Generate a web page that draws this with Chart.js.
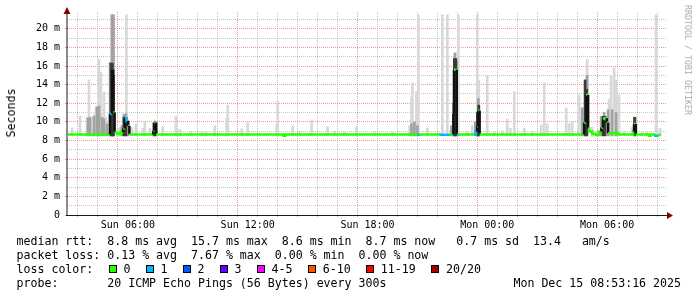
<!DOCTYPE html>
<html>
<head>
<meta charset="utf-8">
<script src="https://cdn.jsdelivr.net/npm/chart.js@4/dist/chart.umd.min.js"></script>
<style>
    html, body { margin: 0; padding: 0; background: #fff; }
    #marco { position: relative; width: 697px; height: 297px; overflow: hidden; background: #fff; }
    #grafico { position: absolute; left: 0; top: 0; }
    .txt { position: absolute; font-family: "DejaVu Sans Mono", monospace; font-size: 11.6px; line-height: 14px; white-space: pre; color: #000; }
    .caja { position: absolute; width: 6px; height: 6px; border: 1px solid #000; }
    #titulo-y { left: 11px; top: 113px; transform: translate(-50%, -50%) rotate(-90deg); }
    #marca { left: 688px; top: 60px; font-size: 8.3px; color: #ababab; transform: translate(-50%, -50%) rotate(90deg); }
</style>
</head>
<body>
<div id="marco">
    <canvas id="grafico" width="697" height="297"></canvas>
    <div class="txt" id="titulo-y">Seconds</div>
    <div class="txt" id="marca">RRDTOOL / TOBI OETIKER</div>
    <div class="txt" style="left:16.5px; top:234px;">median rtt:  8.8 ms avg  15.7 ms max  8.6 ms min  8.7 ms now   0.7 ms sd  13.4   am/s</div>
    <div class="txt" style="left:16.5px; top:248px;">packet loss: 0.13 % avg  7.67 % max  0.00 % min  0.00 % now</div>
    <div class="txt" style="left:16.5px; top:262px;">loss color:</div>
    <div id="leyenda-perdida"></div>
    <div class="txt" style="left:16.5px; top:276px;">probe:       20 ICMP Echo Pings (56 Bytes) every 300s</div>
    <div class="txt" style="right:16px; top:276px;">Mon Dec 15 08:53:16 2025</div>
</div>
<script>
// tiempo en horas desde Sun 00:00, valores en ms
const xMin = 2.95, xMax = 32.95;
const yMin = 0, yMax = 21.8;

const xTickHours = [6, 12, 18, 24, 30];
const xTickLabels = ['Sun 06:00', 'Sun 12:00', 'Sun 18:00', 'Mon 00:00', 'Mon 06:00'];
const yLabelValues = [0, 2, 4, 6, 8, 10, 12, 14, 16, 18, 20];
const yLabelTexts = ['0', '2 m', '4 m', '6 m', '8 m', '10 m', '12 m', '14 m', '16 m', '18 m', '20 m'];

// mediana: inicio de cada tramo, valor y pings perdidos
const medianTimes = [3.0, 5.1, 5.215, 5.265, 5.335, 5.465, 5.635, 5.765, 5.85, 5.935, 6.015, 6.075, 7.27, 7.33, 7.42, 13.8, 13.88, 20.5, 20.6, 21.6, 22.1, 22.3, 22.33, 22.47, 22.55, 23.35, 23.43, 23.49, 23.545, 23.615, 28.85, 28.95, 29.05, 29.1, 29.25, 29.45, 29.6, 29.715, 29.8, 29.885, 29.985, 30.05, 30.435, 30.5, 30.6, 31.315, 31.35, 31.435, 32.1, 32.175, 32.35, 32.515];
const medianValues = [8.65, 10.86, 15.6, 11.0, 8.85, 8.7, 8.9, 9.3, 10.4, 10.1, 9.57, 8.65, 9.05, 9.9, 8.65, 8.5, 8.65, 8.62, 8.65, 8.62, 8.65, 10.86, 15.6, 8.62, 8.65, 8.62, 8.96, 9.5, 11.2, 8.65, 9.92, 12.9, 9.3, 8.96, 8.7, 8.6, 8.96, 9.39, 10.3, 10.4, 9.92, 8.78, 8.85, 8.7, 8.65, 8.96, 9.78, 8.65, 8.5, 8.65, 8.5, 8.6];
const medianLoss = [0, 1, 2, 0, 0, 0, 0, 0, 1, 1, 0, 0, 0, 0, 0, 0, 0, 1, 0, 1, 0, 0, 0, 1, 0, 1, 1, 1, 0, 0, 0, 0, 0, 0, 0, 0, 0, 0, 0, 0, 0, 0, 0, 0, 0, 0, 0, 0, 0, 0, 1, 0];
const medianEnd = 32.685;

// humo (smoke): tres tonos
const smokeFloor = 8.5;
const lightTimes = [3.2, 3.6, 3.95, 4.05, 4.15, 4.3, 4.4, 4.5, 4.55, 4.65, 4.8, 4.9, 5.1, 5.2, 5.275, 5.5, 5.6, 5.925, 6.2, 6.4, 6.75, 6.85, 7.1, 7.35, 7.75, 8.4, 8.6, 9.15, 9.7, 9.9, 10.35, 10.95, 11.0, 11.7, 12.0, 13.45, 13.5, 14.25, 14.6, 15.2, 16.0, 16.35, 16.85, 17.45, 18.35, 19.25, 20.1, 20.2, 20.25, 20.45, 20.55, 21.0, 21.75, 22.0, 22.25, 22.4, 22.55, 23.0, 23.25, 23.5, 23.575, 24.0, 24.35, 24.75, 25.0, 25.15, 25.35, 25.85, 26.25, 26.7, 26.85, 27.0, 27.95, 28.1, 28.25, 28.6, 28.75, 29.0, 29.25, 30.1, 30.2, 30.35, 30.45, 30.6, 30.85, 31.25, 31.45, 31.75, 32.0, 32.45, 32.65];
const lightHigh = [9.35, 10.6, 10.5, 14.5, 10.4, 10.75, 11.6, 11.6, 16.7, 15.3, 13.2, 10.5, 16.4, 21.5, 21.5, 9.3, 9.4, 21.5, 9.4, 9.8, 9.3, 10.0, 9.3, 10.2, 9.5, 10.6, 9.2, 8.95, 8.9, 8.9, 9.57, 10.4, 11.8, 9.25, 9.9, 9.7, 12.2, 9.57, 8.9, 10.2, 9.5, 9.0, 8.9, 9.5, 8.9, 8.9, 9.57, 12.7, 14.2, 13.26, 21.5, 9.35, 21.5, 21.5, 9.6, 17.4, 21.5, 8.9, 9.57, 21.5, 14.5, 14.9, 8.9, 9.0, 10.3, 9.3, 13.26, 9.3, 9.0, 9.68, 14.2, 9.8, 11.5, 9.8, 10.0, 12.9, 11.5, 16.7, 9.4, 12.4, 14.9, 15.8, 14.5, 12.9, 9.0, 9.4, 10.5, 8.9, 8.9, 21.5, 9.3];
const midTimes = [4.0, 4.1, 4.3, 4.45, 4.55, 4.7, 4.8, 4.95, 5.125, 5.2, 5.275, 5.7, 5.8, 5.9, 6.0, 20.2, 20.35, 20.5, 22.2, 22.3, 22.375, 22.45, 23.4, 23.55, 28.75, 28.9, 29.0, 29.7, 29.85, 30.05, 30.25, 30.45, 31.4];
const midHigh = [10.4, 10.5, 10.6, 11.6, 11.7, 10.5, 10.3, 9.8, 16.4, 21.5, 21.5, 9.6, 10.8, 10.9, 10.2, 9.8, 10.0, 9.6, 9.57, 12.0, 17.4, 16.5, 10.0, 12.5, 11.5, 14.5, 15.0, 10.6, 11.0, 11.3, 11.3, 11.0, 10.5];
const darkTimes = [5.15, 5.225, 5.275, 5.8, 5.9, 7.3, 7.375, 22.35, 22.425, 23.5, 23.575, 28.9, 28.975, 29.8, 29.9, 31.375];
const darkHigh = [16.3, 16.3, 15.0, 10.5, 10.4, 9.9, 10.0, 16.8, 16.8, 11.0, 11.8, 14.5, 13.5, 10.6, 10.6, 10.5];

const lossLabels = ['0', '1', '2', '3', '4-5', '6-10', '11-19', '20/20'];
const lossColors = ['#26ff00', '#00b8ff', '#0059ff', '#5e00ff', '#ff00ff', '#ff5500', '#ff0000', '#a10000'];

const GRID = 'rgba(89,89,89,0.35)';
const MGRID = 'rgba(232,82,82,0.6)';

// leyenda de colores de perdida
const cajaLeyenda = document.getElementById('leyenda-perdida');
let posX = 108.5;
lossLabels.forEach((lab, i) => {
    const c = document.createElement('div');
    c.className = 'caja';
    c.style.left = posX + 'px';
    c.style.top = '265px';
    c.style.background = lossColors[i];
    cajaLeyenda.appendChild(c);
    const t = document.createElement('div');
    t.className = 'txt';
    t.style.left = (posX + 15) + 'px';
    t.style.top = '262px';
    t.textContent = lab;
    cajaLeyenda.appendChild(t);
    posX += 30 + 7.03 * lab.length;
});

// mediana como escalones: tramo horizontal y salto vertical
const puntosMediana = [];
medianTimes.forEach((t, i) => {
    const fin = i + 1 < medianTimes.length ? medianTimes[i + 1] : medianEnd;
    puntosMediana.push({ x: t, y: medianValues[i] });
    puntosMediana.push({ x: fin, y: medianValues[i] });
});

function colorTramo(ctx) {
    const k = ctx.p0DataIndex;
    const tramo = Math.floor(k / 2);
    if (k % 2 === 0) return lossColors[medianLoss[tramo]];
    const salto = Math.abs(medianValues[tramo + 1] - medianValues[tramo]);
    return salto > 0.4 ? '#111' : lossColors[medianLoss[tramo]];
}

const humo = (tiempos, altos) => tiempos.map((t, i) => ({ x: t, y: [smokeFloor, altos[i]] }));

// color de rejilla: mayor cada n unidades
const rejilla = (n, menor) => c => {
    if (!c.tick) return menor;
    return Math.abs(c.tick.value % n) < 1e-6 ? MGRID : menor;
};

// una marca por unidad entera dentro del rango
const marcasEnteras = s => {
    const lista = [];
    for (let v = Math.ceil(s.min); v <= s.max; v++) lista.push({ value: v });
    s.ticks = lista;
};

const ejes = {
    id: 'ejes',
    afterDraw(chart) {
        const { ctx, chartArea: a } = chart;
        ctx.save();
        ctx.strokeStyle = '#1a1a1a';
        ctx.lineWidth = 1;
        ctx.beginPath();
        ctx.moveTo(a.left, a.bottom + 1);
        ctx.lineTo(a.left, 13);
        ctx.moveTo(a.left - 1, a.bottom + 0.5);
        ctx.lineTo(a.right + 2, a.bottom + 0.5);
        ctx.stroke();
        ctx.fillStyle = '#800000';
        ctx.beginPath();
        ctx.moveTo(a.left, 7);
        ctx.lineTo(a.left - 3.5, 14);
        ctx.lineTo(a.left + 3.5, 14);
        ctx.closePath();
        ctx.fill();
        ctx.beginPath();
        ctx.moveTo(a.right + 7, a.bottom + 0.5);
        ctx.lineTo(a.right + 1, a.bottom - 3);
        ctx.lineTo(a.right + 1, a.bottom + 4);
        ctx.closePath();
        ctx.fill();
        ctx.restore();
    }
};

Chart.defaults.font.family = "'DejaVu Sans Mono', monospace";
Chart.defaults.font.size = 10;
Chart.defaults.color = '#000';

new Chart(document.getElementById('grafico'), {
    type: 'bar',
    data: {
        datasets: [
            { type: 'line', data: puntosMediana, order: 0, borderColor: lossColors[0], borderWidth: 2.5, pointRadius: 0, tension: 0, borderCapStyle: 'butt', segment: { borderColor: colorTramo } },
            { data: humo(darkTimes, darkHigh), order: 1, backgroundColor: '#3a3a3a', barThickness: 2, grouped: false, borderWidth: 0 },
            { data: humo(midTimes, midHigh), order: 2, backgroundColor: '#a2a2a2', barThickness: 2, grouped: false, borderWidth: 0 },
            { data: humo(lightTimes, lightHigh), order: 3, backgroundColor: '#d8d8d8', barThickness: 2, grouped: false, borderWidth: 0 }
        ]
    },
    options: {
        responsive: false,
        animation: false,
        events: [],
        layout: { autoPadding: false, padding: { left: 0, top: 12, right: 31, bottom: 0 } },
        plugins: { legend: { display: false }, tooltip: { enabled: false } },
        scales: {
            x: {
                type: 'linear', min: xMin, max: xMax, offset: false, z: 1,
                afterBuildTicks: marcasEnteras,
                afterFit: s => { s.height = 82; },
                border: { display: false, dash: [1, 1] },
                grid: {
                    color: rejilla(6, GRID),
                    tickColor: rejilla(6, GRID),
                    tickLength: 2, tickBorderDash: []
                },
                ticks: {
                    autoSkip: false, maxRotation: 0, padding: 2,
                    callback: v => { const k = xTickHours.indexOf(v); return k >= 0 ? xTickLabels[k] : ''; }
                }
            },
            y: {
                type: 'linear', min: yMin, max: yMax, z: 1,
                afterBuildTicks: marcasEnteras,
                afterFit: s => { s.width = 67; },
                border: { display: false, dash: [1, 1] },
                grid: {
                    color: rejilla(2, GRID),
                    tickColor: rejilla(2, 'rgba(0,0,0,0)'),
                    tickLength: 2, tickBorderDash: []
                },
                ticks: {
                    autoSkip: false, padding: 5,
                    callback: v => { const k = yLabelValues.indexOf(v); return k >= 0 ? yLabelTexts[k] : ''; }
                }
            }
        }
    },
    plugins: [ejes]
});
</script>
</body>
</html>
